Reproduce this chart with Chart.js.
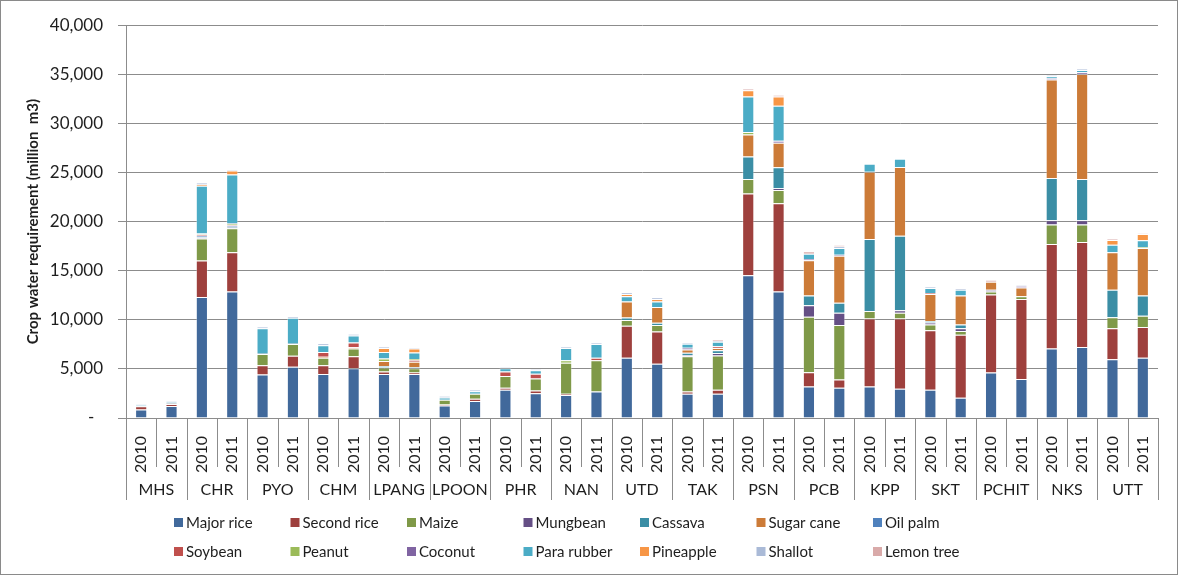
<!DOCTYPE html>
<html>
<head>
<meta charset="utf-8">
<title>Crop water requirement by province</title>
<script src="https://cdn.jsdelivr.net/npm/chart.js@4.4.1/dist/chart.umd.min.js"></script>
<style>
  html, body { margin: 0; padding: 0; background: #ffffff; }
  #wrap { width: 1178px; height: 575px; position: relative; }
  #c { display: block; }
</style>
</head>
<body>
<div id="wrap"><canvas id="c" width="1178" height="575"></canvas></div>
<script>
// Provinces and years (two bars per province)
const provinces = ['MHS', 'CHR', 'PYO', 'CHM', 'LPANG', 'LPOON', 'PHR', 'NAN', 'UTD', 'TAK',
                   'PSN', 'PCB', 'KPP', 'SKT', 'PCHIT', 'NKS', 'UTT'];
const years = ['2010', '2011'];
const categories = provinces.flatMap(p => years.map(y => p + ' ' + y));

// Y axis tick values (million m3)
const yTicks = [0, 5000, 10000, 15000, 20000, 25000, 30000, 35000, 40000];

// Crop water requirement per crop (million m3), bar order as in categories
const majorRice  = [870, 1230, 12330, 12870, 4430, 5230, 4470, 5070, 4470, 4470, 1270, 1730, 2870, 2530, 2330, 2700, 6130, 5530, 2470, 2470, 14530, 12870, 3200, 3070, 3200, 2970, 2870, 2070, 4630, 3970, 7070, 7230, 5970, 6130];
const secondRice = [330, 200, 3700, 4000, 940, 1100, 900, 1230, 260, 170, 100, 230, 200, 270, 140, 0, 3270, 3270, 230, 400, 8340, 9000, 1470, 860, 6930, 7160, 6060, 6400, 7940, 8160, 10660, 10700, 3160, 3140];
const maize      = [0, 0, 2240, 2460, 1160, 1200, 760, 770, 400, 430, 500, 500, 1200, 1230, 3160, 3170, 570, 670, 3600, 3500, 1460, 1360, 5630, 5540, 770, 600, 600, 400, 300, 270, 1970, 1770, 1140, 1130];
const mungbean   = [0, 0, 80, 80, 0, 0, 0, 0, 0, 0, 0, 0, 0, 0, 0, 0, 0, 0, 80, 260, 0, 170, 1170, 1260, 0, 240, 200, 260, 200, 0, 430, 430, 0, 0];
const cassava    = [0, 0, 60, 60, 100, 100, 0, 0, 170, 100, 0, 0, 0, 0, 0, 0, 260, 230, 270, 270, 2300, 2130, 1000, 1000, 7330, 7600, 140, 400, 0, 0, 4300, 4200, 2800, 2070];
const sugarCane  = [0, 0, 0, 0, 0, 0, 100, 130, 500, 570, 0, 0, 0, 0, 0, 0, 1640, 1600, 330, 230, 2240, 2500, 3600, 4800, 6840, 7000, 2760, 2940, 800, 900, 10040, 10700, 3800, 4830];
const oilPalm    = [0, 0, 150, 100, 0, 0, 0, 0, 0, 0, 0, 0, 0, 0, 0, 0, 0, 0, 0, 0, 0, 0, 0, 0, 0, 0, 0, 0, 0, 0, 0, 0, 0, 0];
const soybean    = [0, 50, 100, 80, 0, 0, 500, 500, 0, 160, 0, 0, 460, 470, 0, 260, 0, 0, 0, 170, 0, 0, 0, 0, 0, 0, 100, 0, 0, 0, 0, 0, 0, 0];
const peanut     = [0, 0, 60, 100, 0, 0, 0, 0, 270, 100, 0, 0, 0, 0, 240, 0, 0, 0, 0, 0, 260, 0, 0, 0, 0, 0, 0, 0, 0, 0, 0, 0, 0, 100];
const coconut    = [0, 0, 60, 50, 0, 0, 0, 0, 0, 0, 0, 0, 0, 0, 0, 0, 0, 0, 170, 0, 0, 200, 130, 100, 0, 0, 0, 0, 0, 130, 130, 170, 0, 0];
const paraRubber = [120, 170, 4860, 5000, 2500, 2570, 670, 700, 660, 670, 230, 270, 340, 370, 1260, 1400, 530, 570, 400, 470, 3600, 3570, 530, 670, 830, 830, 500, 600, 0, 0, 200, 230, 760, 700];
const pineapple  = [0, 0, 150, 400, 0, 0, 0, 0, 400, 400, 0, 0, 0, 0, 0, 0, 230, 260, 0, 0, 640, 930, 0, 0, 0, 0, 0, 0, 0, 0, 0, 0, 500, 630];
const shallot    = [50, 80, 180, 100, 170, 170, 200, 170, 100, 100, 130, 140, 100, 100, 100, 130, 170, 140, 130, 100, 0, 0, 0, 170, 0, 0, 140, 130, 0, 100, 130, 140, 0, 0];
const lemonTree  = [0, 0, 0, 0, 0, 0, 0, 0, 0, 0, 0, 0, 0, 0, 0, 0, 0, 0, 0, 130, 160, 170, 240, 130, 0, 0, 0, 0, 200, 0, 0, 0, 100, 70];

// Stacking order: first series sits at the bottom
const series = [
  { name: 'Major rice',  data: majorRice,  color: '#41699b' },
  { name: 'Second rice', data: secondRice, color: '#9e403d' },
  { name: 'Maize',       data: maize,      color: '#7f9948' },
  { name: 'Mungbean',    data: mungbean,   color: '#654f85' },
  { name: 'Cassava',     data: cassava,    color: '#3b8ea5' },
  { name: 'Sugar cane',  data: sugarCane,  color: '#cc7b38' },
  { name: 'Oil palm',    data: oilPalm,    color: '#4f81bd' },
  { name: 'Soybean',     data: soybean,    color: '#c0504d' },
  { name: 'Peanut',      data: peanut,     color: '#9bbb59' },
  { name: 'Coconut',     data: coconut,    color: '#8064a2' },
  { name: 'Para rubber', data: paraRubber, color: '#4bacc6' },
  { name: 'Pineapple',   data: pineapple,  color: '#f79646' },
  { name: 'Shallot',     data: shallot,    color: '#aabad7' },
  { name: 'Lemon tree',  data: lemonTree,  color: '#d9aaa9' }
];

const FONT = 'Lato, "Open Sans", "DejaVu Sans", sans-serif';
const TEXT = '#1e1e1e';
const LINE = '#8c8c8c';

// Province level of the x axis, the column legend and the outer frame
const groupAxis = {
  id: 'groupAxis',
  afterDraw(chart) {
    const { ctx, scales: { x } } = chart;
    const n = categories.length;
    const step = (x.right - x.left) / n;
    ctx.save();
    ctx.strokeStyle = LINE;
    ctx.lineWidth = 1;
    for (let i = 0; i <= n; i++) {
      const px = Math.round(x.left + i * step) + 0.5;
      const bottom = i % 2 === 0 ? 500 : 467;
      ctx.beginPath();
      ctx.moveTo(px, x.top);
      ctx.lineTo(px, bottom);
      ctx.stroke();
    }
    ctx.fillStyle = TEXT;
    ctx.font = '16px ' + FONT;
    ctx.textAlign = 'center';
    ctx.textBaseline = 'middle';
    provinces.forEach((p, k) => {
      const cx = (x.getPixelForValue(2 * k) + x.getPixelForValue(2 * k + 1)) / 2;
      ctx.fillText(p, cx, 490);
    });

    // legend: 7 columns, 2 rows
    ctx.font = '15px ' + FONT;
    ctx.textAlign = 'left';
    chart.data.datasets.forEach((ds, i) => {
      const col = i % 7, row = Math.floor(i / 7);
      const bx = 174 + col * 116.5;
      const by = row === 0 ? 523 : 552;
      ctx.fillStyle = ds.backgroundColor;
      ctx.fillRect(bx, by - 5, 9, 9);
      ctx.fillStyle = TEXT;
      ctx.fillText(ds.label, bx + 12, by);
    });

    ctx.strokeStyle = '#8a8a8a';
    ctx.strokeRect(0.5, 0.5, chart.width - 1, chart.height - 1);
    ctx.restore();
  }
};

new Chart(document.getElementById('c'), {
  type: 'bar',
  data: {
    labels: categories,
    datasets: series.map(s => ({
      label: s.name,
      data: s.data,
      backgroundColor: s.color,
      borderColor: 'rgba(255,255,255,0.35)',
      borderWidth: ctx => (ctx.raw > 0 ? 1 : 0),
      barPercentage: 0.4,
      categoryPercentage: 1.0
    }))
  },
  options: {
    responsive: false,
    animation: false,
    devicePixelRatio: 1,
    layout: { padding: { left: 20, top: 18, right: 20, bottom: 72 } },
    plugins: {
      legend: { display: false },
      tooltip: { enabled: false }
    },
    scales: {
      x: {
        stacked: true,
        afterFit: scale => { scale.height = 85; },
        grid: { display: false },
        border: { display: true, color: LINE, width: 1 },
        ticks: {
          autoSkip: false,
          maxRotation: 90,
          minRotation: 90,
          padding: 10,
          color: TEXT,
          font: { family: FONT, size: 16 },
          callback: (v, i) => categories[i].split(' ')[1]
        }
      },
      y: {
        stacked: true,
        min: 0,
        max: 40000,
        afterFit: scale => { scale.width = 106; },
        afterBuildTicks: scale => { scale.ticks = yTicks.map(v => ({ value: v })); },
        grid: { color: LINE, lineWidth: 1, drawTicks: true, tickLength: 8 },
        border: { display: true, color: LINE, width: 1 },
        ticks: {
          padding: 15,
          color: TEXT,
          font: { family: FONT, size: 17 },
          callback: v => (v === 0 ? '-  ' : v.toLocaleString('en-US'))
        },
        title: {
          display: true,
          text: 'Crop water requirement (million  m3)',
          color: TEXT,
          font: { family: FONT, size: 15, weight: 'bold' },
          padding: { top: 4, bottom: 4 }
        }
      }
    }
  },
  plugins: [groupAxis]
});
</script>
</body>
</html>
